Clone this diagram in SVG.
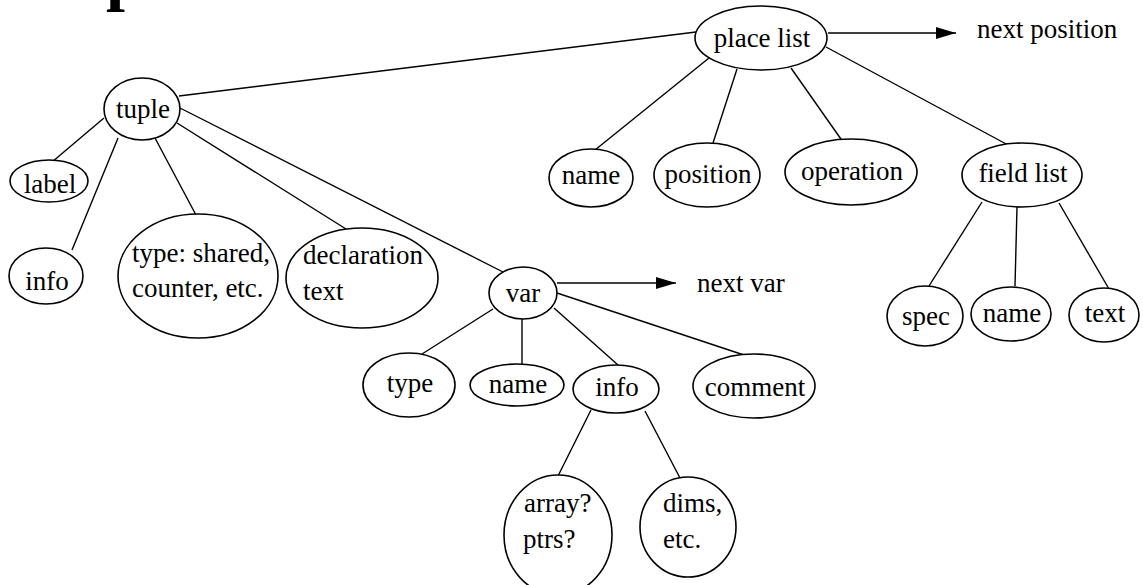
<svg xmlns="http://www.w3.org/2000/svg" width="1143" height="585" viewBox="0 0 1143 585" font-family="Liberation Serif, Times New Roman, serif">
  <style>
    .node ellipse { fill: #ffffff; stroke: #000000; stroke-width: 1.6; }
    .node text, .lbl { font-family: "Liberation Serif", "Times New Roman", serif; font-size: 27px; fill: #000000; }
    .mid { text-anchor: middle; }
    #connectors line { stroke: #000000; stroke-width: 1.4; }
    #connectors .arrow { marker-end: url(#head); }
  </style>
  <defs>
    <marker id="head" viewBox="0 0 20 12" refX="20" refY="6" markerWidth="20" markerHeight="12" markerUnits="userSpaceOnUse" orient="auto">
      <path d="M0,0 L20,6 L0,12 Z" fill="#000000"/>
    </marker>
  </defs>
  <rect width="1143" height="585" fill="#ffffff"/>

  <!-- descender of the heading letter cut by the top edge -->
  <text x="106" y="-2" font-family="Liberation Serif, serif" font-size="68" font-weight="bold">p</text>

  <g id="connectors">
    <line x1="179" y1="96" x2="696" y2="32"/>
    <line x1="104" y1="118" x2="52" y2="162"/>
    <line x1="118" y1="138" x2="72" y2="250"/>
    <line x1="155" y1="138" x2="196" y2="215"/>
    <line x1="177" y1="123" x2="346" y2="229"/>
    <line x1="180" y1="108" x2="503" y2="272"/>
    <line x1="709" y1="58" x2="595" y2="150"/>
    <line x1="737" y1="69" x2="713" y2="143"/>
    <line x1="791" y1="68" x2="843" y2="142"/>
    <line x1="826" y1="47" x2="1008" y2="145"/>
    <line x1="982" y1="202" x2="929" y2="286"/>
    <line x1="1017" y1="207" x2="1015" y2="286"/>
    <line x1="1059" y1="203" x2="1109" y2="289"/>
    <line x1="493" y1="309" x2="422" y2="354"/>
    <line x1="522" y1="319" x2="522" y2="365"/>
    <line x1="554" y1="308" x2="618" y2="365"/>
    <line x1="557" y1="293" x2="747" y2="356"/>
    <line x1="591" y1="410" x2="558" y2="476"/>
    <line x1="645" y1="411" x2="680" y2="478"/>
    <line class="arrow" x1="828" y1="33" x2="956" y2="33"/>
    <line class="arrow" x1="557" y1="283" x2="676" y2="283"/>
  </g>

  <text class="lbl" x="977" y="38">next position</text>
  <text class="lbl" x="697" y="292">next var</text>

  <g id="place-list" class="node">
    <ellipse cx="761" cy="38" rx="66" ry="32"/>
    <text class="mid" x="762" y="47">place list</text>
  </g>
  <g id="tuple" class="node">
    <ellipse cx="142" cy="109" rx="38" ry="31"/>
    <text class="mid" x="143" y="118">tuple</text>
  </g>
  <g id="label" class="node">
    <ellipse cx="49" cy="181" rx="39" ry="21"/>
    <text class="mid" x="50" y="193">label</text>
  </g>
  <g id="tuple-info" class="node">
    <ellipse cx="46" cy="276" rx="37" ry="28"/>
    <text class="mid" x="47" y="290">info</text>
  </g>
  <g id="tuple-type" class="node">
    <ellipse cx="198" cy="276" rx="80" ry="62"/>
    <text x="132" y="262">type: shared,</text>
    <text x="132" y="297">counter, etc.</text>
  </g>
  <g id="declaration" class="node">
    <ellipse cx="362" cy="278" rx="76" ry="50"/>
    <text x="303" y="264">declaration</text>
    <text x="303" y="300">text</text>
  </g>
  <g id="var" class="node">
    <ellipse cx="523" cy="293" rx="34" ry="26"/>
    <text class="mid" x="523" y="302">var</text>
  </g>
  <g id="var-type" class="node">
    <ellipse cx="409" cy="385" rx="46" ry="32"/>
    <text class="mid" x="410" y="392">type</text>
  </g>
  <g id="var-name" class="node">
    <ellipse cx="517" cy="385" rx="47" ry="21"/>
    <text class="mid" x="518" y="393">name</text>
  </g>
  <g id="var-info" class="node">
    <ellipse cx="616" cy="389" rx="43" ry="24"/>
    <text class="mid" x="617" y="396">info</text>
  </g>
  <g id="comment" class="node">
    <ellipse cx="754" cy="386" rx="61" ry="32"/>
    <text class="mid" x="755" y="396">comment</text>
  </g>
  <g id="array-ptrs" class="node">
    <ellipse cx="558" cy="535" rx="54" ry="60"/>
    <text x="524" y="512">array?</text>
    <text x="523" y="548">ptrs?</text>
  </g>
  <g id="dims" class="node">
    <ellipse cx="688" cy="527" rx="48" ry="50"/>
    <text x="663" y="512">dims,</text>
    <text x="663" y="548">etc.</text>
  </g>
  <g id="place-name" class="node">
    <ellipse cx="591" cy="178" rx="42" ry="29"/>
    <text class="mid" x="591" y="184">name</text>
  </g>
  <g id="position" class="node">
    <ellipse cx="707" cy="175" rx="53" ry="32"/>
    <text class="mid" x="708" y="183">position</text>
  </g>
  <g id="operation" class="node">
    <ellipse cx="851" cy="172" rx="66" ry="33"/>
    <text class="mid" x="852" y="180">operation</text>
  </g>
  <g id="field-list" class="node">
    <ellipse cx="1022" cy="175" rx="60" ry="32"/>
    <text class="mid" x="1023" y="182">field list</text>
  </g>
  <g id="spec" class="node">
    <ellipse cx="925" cy="316" rx="38" ry="30"/>
    <text class="mid" x="926" y="325">spec</text>
  </g>
  <g id="field-name" class="node">
    <ellipse cx="1011" cy="314" rx="40" ry="27"/>
    <text class="mid" x="1012" y="322">name</text>
  </g>
  <g id="text" class="node">
    <ellipse cx="1104" cy="315" rx="35" ry="27"/>
    <text class="mid" x="1105" y="322">text</text>
  </g>
</svg>
